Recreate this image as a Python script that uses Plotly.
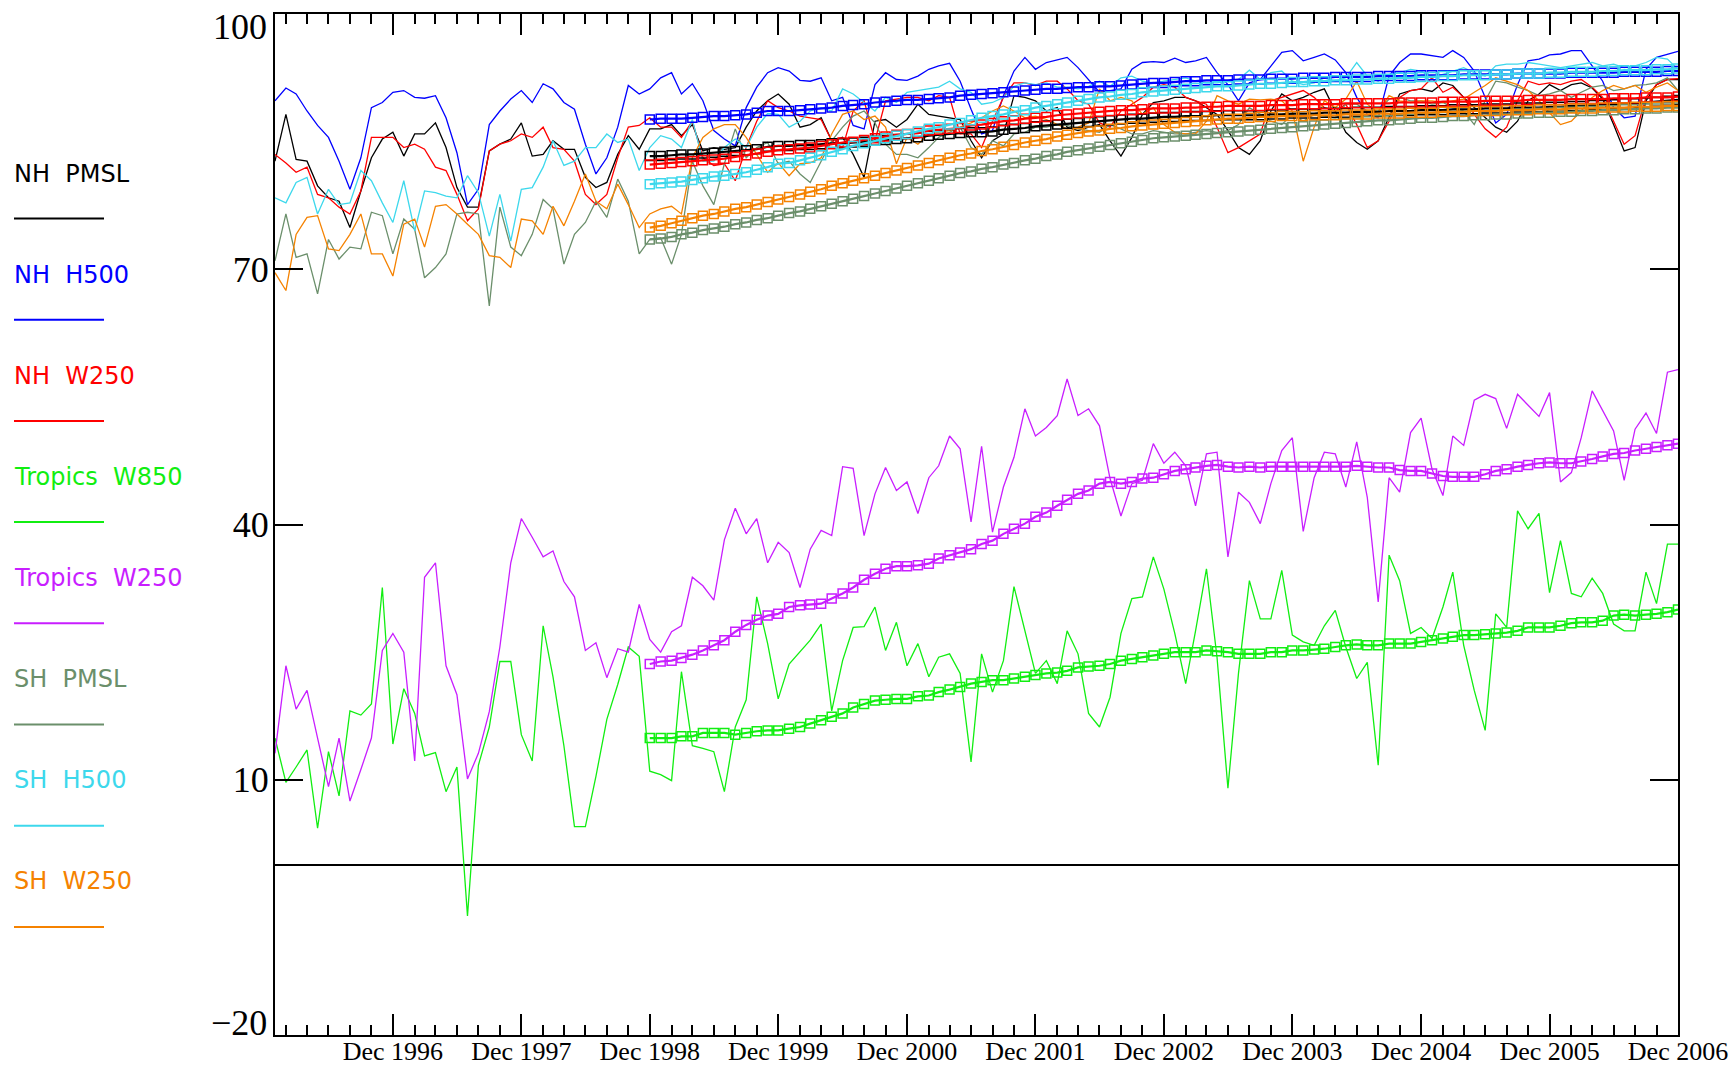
import plotly.graph_objects as go

# ---------------- data ----------------
series_names = ["NH  PMSL", "NH  H500", "NH  W250", "Tropics  W850",
                "Tropics  W250", "SH  PMSL", "SH  H500", "SH  W250"]
series_colors = ["#000000", "#0000ff", "#ff0000", "#11ee11",
                 "#c81eff", "#6b8f6b", "#3dd8ec", "#f58200"]

# monthly x categories Jan 1996 .. Dec 2006
months = [f"{1996 + k // 12}-{k % 12 + 1:02d}-01" for k in range(132)]
smooth_start = 35  # Dec 1998

tick_vals = ["1996-12-01", "1997-12-01", "1998-12-01", "1999-12-01", "2000-12-01", "2001-12-01",
             "2002-12-01", "2003-12-01", "2004-12-01", "2005-12-01", "2006-12-01"]
tick_text = ["Dec 1996", "Dec 1997", "Dec 1998", "Dec 1999", "Dec 2000", "Dec 2001",
             "Dec 2002", "Dec 2003", "Dec 2004", "Dec 2005", "Dec 2006"]
y_tick_vals = [-20, 10, 40, 70, 100]
y_tick_text = ["\u221220", "10", "40", "70", "100"]

nh_pmsl = [82.7, 88.2, 82.9, 82.7, 79.8, 78.4, 78.0, 74.9, 79.2, 83.1, 85.3, 86.1, 83.3, 85.9, 85.9, 87.2,
           84.3, 79.6, 77.3, 77.3, 83.9, 84.7, 85.3, 87.2, 83.3, 83.5, 85.1, 84.1, 84.1, 80.8, 79.6, 80.2,
           83.5, 85.7, 84.1, 86.5, 86.5, 87.0, 85.7, 87.0, 83.9, 84.3, 84.1, 84.3, 86.7, 88.6, 89.8,
           90.6, 89.4, 86.7, 87.0, 87.8, 85.1, 85.5, 83.5, 80.8, 87.4, 87.6, 86.7, 87.6, 89.4, 88.2, 88.0,
           87.8, 87.6, 85.1, 83.1, 85.1, 85.9, 90.4, 90.2, 89.8, 88.6, 89.0, 86.7, 86.3, 86.7, 87.0, 85.1,
           83.3, 85.5, 88.2, 89.6, 89.8, 90.2, 90.2, 89.8, 89.0, 88.2, 86.3, 84.3,
           83.5, 85.1, 88.6, 90.6, 89.8, 90.2, 90.8, 91.2, 88.6, 86.1, 84.9, 84.1, 85.1, 88.0, 90.6, 91.0,
           91.2, 90.9, 91.9, 91.6, 90.2, 89.0, 87.8, 86.7, 86.1, 87.4, 89.8, 90.6, 91.7, 91.0, 91.7, 91.9,
           91.3, 90.0, 87.0, 83.9, 84.3, 89.8, 91.7, 92.3, 92.3]
nh_h500 = [89.8, 91.3, 90.6, 88.6, 86.9, 85.5, 82.7, 79.4, 83.1, 89.0, 89.6, 90.8, 91.0, 90.2, 90.1, 90.4,
           87.8, 83.7, 77.6, 79.4, 87.0, 88.6, 90.0, 91.0, 89.6, 91.8, 91.2, 89.6, 88.8, 84.7, 81.2, 83.1,
           86.7, 91.6, 90.6, 91.2, 92.5, 93.1, 90.6, 91.8, 89.8, 86.3, 85.3, 84.5, 89.0, 91.4, 93.1,
           93.7, 93.3, 92.2, 92.1, 92.5, 89.8, 90.2, 86.9, 86.5, 91.7, 93.1, 92.3, 92.2, 92.7, 93.5, 93.9,
           94.2, 92.1, 88.8, 85.9, 86.3, 90.4, 93.3, 94.9, 93.5, 94.3, 94.6, 94.9, 93.7, 92.3, 90.8, 91.0,
           91.2, 93.5, 94.3, 94.4, 94.3, 94.8, 94.3, 94.5, 94.9, 93.1, 91.7, 89.8,
           91.9, 92.3, 93.9, 95.5, 95.7, 94.5, 94.9, 95.3, 94.6, 93.1, 90.2, 88.2, 87.8, 92.7, 94.3, 95.3,
           95.3, 95.1, 94.9, 95.7, 94.9, 93.3, 90.2, 87.2, 88.2, 91.7, 94.5, 94.7, 95.2, 95.3, 95.7, 95.7,
           93.9, 92.1, 89.0, 87.8, 88.0, 93.5, 94.9, 95.3, 95.6]
nh_w250 = [83.5, 82.5, 81.4, 82.0, 78.8, 78.4, 77.3, 76.5, 79.2, 85.5, 85.5, 85.5, 84.3, 84.7, 84.1, 82.0,
           81.6, 78.8, 75.7, 77.1, 83.9, 84.7, 85.1, 85.9, 85.5, 86.7, 84.3, 84.1, 82.7, 78.8, 77.6, 78.8,
           83.1, 86.7, 86.9, 87.8, 86.7, 86.7, 85.5, 87.4, 83.1, 82.2, 82.4, 80.4, 84.3, 87.4, 89.8,
           89.0, 88.6, 88.0, 87.8, 87.6, 85.1, 84.3, 88.6, 89.8, 85.1, 89.8, 90.0, 90.2, 90.2, 89.8, 90.4,
           90.2, 85.9, 85.9, 84.3, 87.4, 90.2, 91.9, 91.9, 91.6, 92.1, 92.1, 91.2, 89.8, 89.4, 87.2, 86.7,
           88.6, 89.4, 90.2, 91.4, 91.7, 91.4, 90.2, 89.8, 89.4, 86.7, 83.7, 84.3,
           85.1, 85.9, 89.8, 90.2, 90.6, 91.0, 90.2, 89.0, 88.6, 89.4, 87.0, 84.3, 85.1, 87.4, 90.2, 91.0,
           91.2, 92.5, 90.8, 91.4, 90.2, 88.2, 86.5, 85.5, 86.7, 89.8, 92.1, 91.7, 91.9, 91.7, 92.1, 92.3,
           91.4, 90.2, 87.4, 84.7, 85.7, 90.2, 91.7, 92.3, 92.4]
trop_w850 = [14.9, 9.7, 11.5, 13.5, 4.3, 13.3, 8.1, 18.1, 17.6, 18.9, 32.6, 14.2, 20.7, 17.8, 12.8, 13.2,
             8.6, 11.5, -6.0, 11.7, 16.2, 23.9, 23.9, 15.3, 12.2, 28.1, 22.1, 14.0, 4.5, 4.5, 10.4, 17.1,
             21.2, 25.6, 24.5, 11.0, 10.6, 9.9, 22.7, 14.0, 13.7, 13.3, 8.6, 16.2, 19.4, 31.5, 26.0,
             19.5, 23.6, 25.0, 26.4, 28.3, 18.1, 24.0, 27.9, 28.0, 30.3, 25.2, 28.5, 23.4, 26.0, 22.1, 24.4,
             24.8, 22.5, 12.1, 24.8, 20.3, 24.0, 32.7, 27.5, 22.5, 24.0, 21.3, 27.5, 24.8, 17.8, 16.2, 19.7,
             27.2, 31.3, 31.5, 36.2, 32.4, 27.2, 21.3, 27.5, 34.8, 24.4, 9.0, 22.5,
             33.4, 28.9, 28.9, 34.6, 27.0, 26.2, 25.8, 28.1, 29.9, 25.6, 21.9, 23.8, 11.7, 36.4, 33.4, 27.2,
             27.9, 26.6, 30.3, 34.4, 25.8, 20.5, 15.8, 29.5, 27.9, 41.6, 39.5, 41.3, 32.0, 38.1, 31.9, 31.5,
             33.7, 31.9, 28.3, 27.5, 27.5, 34.4, 30.7, 37.7, 37.7]
trop_w250 = [13.1, 23.4, 18.3, 20.5, 14.9, 9.2, 14.9, 7.5, 11.2, 14.9, 25.2, 27.2, 25.0, 12.2, 33.8, 35.5,
             23.4, 20.0, 10.1, 13.1, 18.0, 25.6, 35.5, 40.7, 38.5, 36.2, 36.9, 33.3, 31.5, 25.2, 26.1, 22.0,
             25.4, 25.0, 30.6, 26.5, 25.0, 27.4, 28.1, 33.8, 32.8, 31.1, 38.2, 41.9, 38.9, 40.7, 35.5,
             37.9, 36.7, 32.6, 37.1, 39.3, 38.7, 46.8, 46.6, 38.7, 43.6, 46.7, 44.0, 45.0, 41.3, 45.5, 46.9,
             50.4, 48.9, 40.3, 49.2, 39.1, 44.4, 47.9, 53.6, 50.4, 51.4, 52.8, 57.1, 52.8, 53.6, 51.6, 45.4,
             41.0, 44.8, 45.2, 49.5, 47.2, 48.5, 46.9, 42.2, 48.3, 48.5, 36.2, 43.8,
             42.6, 40.1, 44.8, 48.7, 50.2, 39.2, 45.5, 48.5, 48.3, 44.4, 49.7, 43.2, 30.9, 45.5, 43.8, 50.8,
             52.5, 46.5, 43.4, 50.4, 49.3, 54.6, 55.3, 54.8, 51.3, 55.3, 54.0, 52.7, 55.5, 45.0, 46.1, 50.2,
             55.7, 53.4, 51.0, 45.2, 51.2, 53.1, 50.7, 57.9, 58.2]
sh_pmsl = [71.0, 76.5, 71.4, 71.8, 67.1, 73.5, 71.2, 72.6, 72.4, 76.7, 76.3, 71.8, 75.9, 74.7, 69.0, 70.2,
           71.8, 76.5, 76.7, 76.5, 65.7, 77.3, 72.6, 71.6, 74.1, 78.2, 77.1, 70.6, 74.1, 75.5, 78.0, 76.1,
           80.6, 78.0, 71.8, 73.5, 73.7, 70.6, 74.1, 82.7, 79.8, 77.6, 82.4, 86.5, 83.1, 84.3, 84.9,
           82.4, 82.7, 81.2, 80.2, 82.7, 85.1, 86.7, 88.0, 88.6, 87.2, 84.7, 83.5, 83.5, 83.1, 84.3, 85.5,
           86.1, 86.7, 84.3, 83.5, 85.1, 84.5, 85.9, 86.1, 86.7, 86.7, 87.0, 86.9, 86.5, 86.3, 86.1, 87.0,
           86.5, 85.9, 85.9, 86.3, 86.1, 85.9, 85.9, 86.1, 86.3, 86.1, 86.3, 87.0,
           89.0, 88.2, 87.4, 87.0, 88.2, 87.4, 88.2, 88.0, 87.8, 89.4, 89.4, 88.6, 88.6, 90.0, 90.2, 89.8,
           89.8, 89.4, 89.6, 89.0, 88.6, 87.0, 89.8, 92.1, 91.9, 91.4, 91.0, 90.4, 90.6, 91.0, 90.2, 90.8,
           91.4, 91.6, 91.0, 91.2, 91.6, 91.7, 91.9, 92.5, 91.0]
sh_h500 = [78.4, 77.8, 80.2, 80.8, 76.5, 79.4, 77.6, 77.8, 81.6, 80.4, 77.8, 75.5, 80.4, 74.5, 79.2, 79.0,
           78.6, 78.4, 81.0, 79.0, 73.9, 78.8, 73.3, 79.4, 79.6, 82.0, 85.1, 82.2, 82.7, 84.3, 84.3, 85.9,
           84.9, 85.3, 81.6, 84.3, 85.7, 85.3, 84.3, 87.6, 82.7, 82.7, 84.3, 85.3, 84.3, 86.7, 88.3,
           88.2, 86.7, 87.4, 88.6, 89.0, 88.6, 91.2, 90.6, 89.6, 88.6, 90.2, 89.6, 90.8, 91.0, 91.2, 91.4,
           92.1, 91.2, 90.8, 89.4, 89.6, 90.2, 91.5, 91.9, 91.7, 91.9, 91.4, 91.4, 91.2, 91.5, 92.1, 91.5,
           92.5, 92.7, 92.1, 91.9, 92.1, 92.3, 92.5, 92.1, 91.9, 91.9, 92.1, 92.3,
           93.4, 92.3, 93.1, 93.3, 92.1, 91.7, 91.9, 92.5, 92.1, 92.5, 94.3, 92.7, 92.1, 92.9, 93.1, 93.5,
           93.3, 92.5, 92.9, 93.3, 93.7, 93.1, 92.7, 93.9, 94.1, 94.1, 94.3, 94.1, 93.9, 93.7, 93.9, 94.1,
           94.3, 93.9, 94.1, 93.7, 93.9, 94.3, 94.9, 94.7, 93.5]
sh_w250 = [69.6, 67.5, 74.1, 76.1, 76.3, 72.4, 72.2, 74.1, 76.5, 71.8, 71.8, 69.2, 75.3, 75.9, 72.6, 77.4,
           77.6, 76.5, 75.3, 74.1, 71.6, 71.4, 70.2, 75.9, 75.7, 74.1, 77.4, 75.1, 78.0, 81.2, 78.0, 77.1,
           80.0, 77.6, 74.9, 76.5, 77.1, 77.4, 76.5, 83.1, 85.5, 86.5, 87.0, 87.0, 85.5, 83.5, 81.4,
           82.5, 81.0, 82.4, 82.5, 83.1, 85.9, 88.2, 88.6, 87.6, 88.0, 86.7, 82.4, 85.5, 84.7, 85.9, 86.1,
           86.3, 86.7, 87.2, 87.8, 88.6, 89.2, 88.6, 87.8, 88.0, 87.6, 87.0, 86.5, 86.7, 87.2, 91.2, 89.8,
           90.2, 89.8, 88.2, 89.0, 87.0, 86.1, 85.9, 85.9, 87.4, 90.4, 89.8, 89.4,
           90.0, 89.9, 90.0, 89.8, 88.6, 82.7, 86.7, 89.8, 89.0, 90.0, 92.1, 89.4, 88.4, 90.4, 89.8, 89.6,
           89.8, 89.8, 89.6, 89.8, 90.0, 90.8, 91.6, 92.5, 92.1, 91.7, 91.0, 89.8, 88.4, 87.0, 87.4, 88.6,
           90.2, 91.0, 91.6, 91.2, 91.6, 90.8, 91.4, 91.9, 91.0]

# smoothed curves, Dec 1998 .. Dec 2006
nh_pmsl_s = [83.3, 83.3, 83.4, 83.5, 83.5, 83.6, 83.7, 83.8, 83.9, 84.0, 84.1,
             84.4, 84.5, 84.5, 84.6, 84.6, 84.7, 84.8, 84.8, 84.9, 85.0, 85.1, 85.2, 85.3, 85.4, 85.5,
             85.7, 85.8, 85.9, 86.0, 86.1, 86.1, 86.2, 86.4, 86.5, 86.6, 86.8, 86.9, 87.0, 87.1, 87.2,
             87.3, 87.4, 87.5, 87.6, 87.7, 87.7, 87.8, 87.9, 87.9, 88.0, 88.0, 88.0, 88.1, 88.1, 88.1,
             88.1, 88.1, 88.2, 88.2, 88.3, 88.3, 88.3, 88.4, 88.4, 88.4, 88.5, 88.5, 88.5, 88.6, 88.6,
             88.6, 88.7, 88.7, 88.7, 88.8, 88.8, 88.8, 88.9, 88.9, 88.9, 89.0, 89.0, 89.0, 89.1, 89.1,
             89.2, 89.2, 89.3, 89.3, 89.4, 89.5, 89.5, 89.6, 89.7, 89.8, 89.9]
nh_h500_s = [87.6, 87.7, 87.7, 87.7, 87.8, 87.9, 88.0, 88.0, 88.1, 88.2, 88.4,
             88.6, 88.6, 88.6, 88.7, 88.8, 88.9, 89.0, 89.2, 89.3, 89.4, 89.6, 89.7, 89.8, 89.9, 89.9,
             90.0, 90.1, 90.2, 90.4, 90.5, 90.6, 90.7, 90.8, 90.9, 91.0, 91.1, 91.2, 91.2, 91.3, 91.4,
             91.4, 91.5, 91.5, 91.6, 91.7, 91.8, 91.9, 91.9, 92.0, 92.1, 92.1, 92.2, 92.2, 92.2, 92.3,
             92.3, 92.3, 92.4, 92.4, 92.4, 92.5, 92.5, 92.5, 92.6, 92.6, 92.6, 92.6, 92.7, 92.7, 92.7,
             92.7, 92.8, 92.8, 92.8, 92.8, 92.9, 92.9, 92.9, 92.9, 92.9, 93.0, 93.0, 93.0, 93.0, 93.0,
             93.1, 93.1, 93.1, 93.1, 93.1, 93.2, 93.2, 93.2, 93.2, 93.3, 93.3]
nh_w250_s = [82.3, 82.4, 82.5, 82.6, 82.7, 82.8, 82.9, 83.0, 83.2, 83.4, 83.6,
             83.8, 84.0, 84.1, 84.2, 84.3, 84.5, 84.7, 84.9, 85.0, 85.2, 85.4, 85.6, 85.8, 85.9, 86.0,
             86.3, 86.4, 86.5, 86.6, 86.9, 87.0, 87.2, 87.4, 87.5, 87.7, 87.8, 87.9, 88.1, 88.2, 88.3,
             88.4, 88.5, 88.6, 88.7, 88.7, 88.8, 88.9, 88.9, 88.9, 89.0, 89.0, 89.1, 89.1, 89.2, 89.2,
             89.2, 89.2, 89.3, 89.3, 89.3, 89.4, 89.4, 89.4, 89.4, 89.5, 89.5, 89.5, 89.5, 89.5, 89.6,
             89.6, 89.6, 89.6, 89.7, 89.7, 89.7, 89.7, 89.8, 89.8, 89.8, 89.8, 89.9, 89.9, 89.9, 89.9,
             90.0, 90.0, 90.0, 90.0, 90.1, 90.1, 90.1, 90.2, 90.2, 90.2, 90.3]
trop_w850_s = [14.9, 14.9, 14.9, 15.1, 15.1, 15.5, 15.5, 15.5, 15.3, 15.5, 15.7,
               15.8, 15.8, 16.0, 16.2, 16.6, 17.0, 17.4, 17.8, 18.5, 18.9, 19.3, 19.4, 19.5, 19.5, 19.8,
               19.9, 20.3, 20.6, 20.9, 21.3, 21.5, 21.7, 21.7, 21.9, 22.1, 22.3, 22.5, 22.6, 22.8, 23.2,
               23.3, 23.4, 23.6, 24.0, 24.2, 24.4, 24.6, 24.8, 25.0, 25.0, 25.0, 25.2, 25.1, 25.0, 24.8,
               24.8, 24.8, 25.0, 25.0, 25.2, 25.2, 25.3, 25.4, 25.6, 25.8, 25.9, 25.8, 25.8, 26.0, 26.0,
               26.0, 26.2, 26.4, 26.6, 26.8, 27.0, 27.0, 27.1, 27.2, 27.3, 27.5, 27.9, 27.9, 27.9, 28.1,
               28.4, 28.5, 28.5, 28.7, 29.3, 29.4, 29.3, 29.4, 29.5, 29.7, 30.0]
trop_w250_s = [23.6, 23.9, 24.0, 24.3, 24.7, 25.2, 25.8, 26.4, 27.4, 28.2, 28.8,
               29.3, 29.5, 30.3, 30.5, 30.6, 30.7, 31.3, 31.9, 32.6, 33.5, 34.2, 34.8, 35.1, 35.1, 35.2,
               35.4, 36.0, 36.4, 36.7, 37.1, 37.7, 38.1, 38.9, 39.5, 40.1, 40.9, 41.4, 42.2, 42.9, 43.6,
               44.0, 44.8, 45.0, 44.8, 45.0, 45.4, 45.5, 45.9, 46.3, 46.5, 46.7, 46.9, 47.0, 46.8, 46.7,
               46.8, 46.7, 46.8, 46.8, 46.8, 46.8, 46.8, 46.8, 46.8, 46.8, 46.9, 46.8, 46.7, 46.7, 46.4,
               46.3, 46.3, 46.0, 45.7, 45.6, 45.6, 45.6, 45.9, 46.3, 46.5, 46.8, 47.0, 47.2, 47.3, 47.2,
               47.2, 47.4, 47.7, 48.0, 48.3, 48.4, 48.7, 48.9, 49.1, 49.3, 49.5]
sh_pmsl_s = [73.5, 73.6, 73.8, 74.1, 74.3, 74.6, 74.8, 75.0, 75.3, 75.5, 75.8,
             76.0, 76.3, 76.6, 76.8, 77.1, 77.4, 77.7, 78.0, 78.3, 78.6, 78.9, 79.2, 79.5, 79.8, 80.1,
             80.4, 80.7, 81.0, 81.3, 81.5, 81.8, 82.0, 82.3, 82.5, 82.8, 83.0, 83.3, 83.5, 83.8, 84.0,
             84.2, 84.4, 84.6, 84.8, 85.0, 85.2, 85.4, 85.5, 85.6, 85.7, 85.8, 85.9, 86.0, 86.1, 86.2,
             86.3, 86.4, 86.5, 86.6, 86.7, 86.8, 86.9, 87.0, 87.1, 87.2, 87.3, 87.4, 87.5, 87.5, 87.6,
             87.7, 87.8, 87.8, 87.9, 88.0, 88.0, 88.1, 88.1, 88.2, 88.2, 88.3, 88.3, 88.4, 88.4, 88.5,
             88.5, 88.6, 88.6, 88.7, 88.7, 88.8, 88.8, 88.9, 88.9, 89.0, 89.0]
sh_h500_s = [80.0, 80.1, 80.2, 80.3, 80.5, 80.7, 80.9, 81.0, 81.2, 81.4, 81.7,
             82.0, 82.4, 82.5, 82.8, 83.1, 83.4, 83.8, 84.1, 84.5, 84.8, 85.1, 85.4, 85.7, 85.9, 86.2,
             86.5, 86.7, 87.0, 87.2, 87.5, 87.8, 88.0, 88.2, 88.5, 88.7, 89.0, 89.2, 89.4, 89.6, 89.8,
             90.0, 90.2, 90.3, 90.5, 90.6, 90.8, 90.9, 91.0, 91.1, 91.2, 91.3, 91.4, 91.5, 91.5, 91.6,
             91.7, 91.8, 91.8, 91.9, 92.0, 92.0, 92.1, 92.1, 92.2, 92.2, 92.3, 92.3, 92.4, 92.4, 92.5,
             92.5, 92.6, 92.6, 92.7, 92.7, 92.8, 92.8, 92.8, 92.9, 92.9, 93.0, 93.0, 93.0, 93.1, 93.1,
             93.2, 93.2, 93.2, 93.3, 93.3, 93.4, 93.4, 93.4, 93.5, 93.5, 93.6]
sh_w250_s = [74.9, 75.1, 75.4, 75.7, 76.0, 76.3, 76.5, 76.8, 77.1, 77.3, 77.6,
             77.9, 78.2, 78.5, 78.8, 79.1, 79.4, 79.8, 80.1, 80.4, 80.7, 81.0, 81.3, 81.6, 81.9, 82.2,
             82.5, 82.8, 83.1, 83.4, 83.6, 83.9, 84.1, 84.4, 84.6, 84.9, 85.1, 85.3, 85.6, 85.8, 86.0,
             86.2, 86.3, 86.5, 86.6, 86.8, 86.9, 87.0, 87.1, 87.2, 87.3, 87.4, 87.5, 87.6, 87.7, 87.7,
             87.8, 87.9, 87.9, 88.0, 88.0, 88.0, 88.1, 88.1, 88.1, 88.2, 88.2, 88.2, 88.3, 88.3, 88.3,
             88.4, 88.4, 88.4, 88.5, 88.5, 88.5, 88.6, 88.6, 88.6, 88.7, 88.7, 88.7, 88.8, 88.8, 88.8,
             88.9, 88.9, 88.9, 89.0, 89.0, 89.0, 89.1, 89.1, 89.1, 89.2, 89.2]

raw_series = [nh_pmsl, nh_h500, nh_w250, trop_w850, trop_w250, sh_pmsl, sh_h500, sh_w250]
smooth_series = [nh_pmsl_s, nh_h500_s, nh_w250_s, trop_w850_s, trop_w250_s, sh_pmsl_s, sh_h500_s, sh_w250_s]

for s in raw_series:
    assert len(s) == len(months), len(s)
for s in smooth_series:
    assert len(s) == len(months) - smooth_start, len(s)

# ---------------- figure ----------------
W, H = 1734, 1068
ML, MR, MT, MB = 275, 56, 14, 33
PW, PH = W - ML - MR, H - MT - MB


def px_x(px):
    return (px - ML) / PW


def px_y(py):
    return 1 - (py - MT) / PH


fig = go.Figure()
for name, col, vals in zip(series_names, series_colors, raw_series):
    fig.add_trace(go.Scatter(x=months, y=vals, mode="lines", name=name,
                             line=dict(color=col, width=1.3), showlegend=False))
for name, col, vals in zip(series_names, series_colors, smooth_series):
    fig.add_trace(go.Scatter(x=months[smooth_start:], y=vals, mode="lines+markers", name=name + " mean",
                             line=dict(color=col, width=2.2),
                             marker=dict(symbol="square-open", size=9, color=col,
                                         line=dict(width=1.5, color=col)),
                             showlegend=False))

annotations = []
shapes = []
for k, (name, col) in enumerate(zip(series_names, series_colors)):
    ty = 173.5 + 101.1 * k
    ly = 218.5 + 101.2 * k
    annotations.append(dict(x=px_x(12), y=px_y(ty), xref="paper", yref="paper",
                            xanchor="left", yanchor="middle", showarrow=False,
                            text=name.replace(" ", "\u00a0"),
                            font=dict(family="DejaVu Sans", size=24, color=col)))
    shapes.append(dict(type="line", xref="paper", yref="paper",
                       x0=px_x(14), x1=px_x(104), y0=px_y(ly), y1=px_y(ly),
                       line=dict(color=col, width=2)))

# the end labels of the value axis sit just inside the frame
edge_label_pos = {0: 1023, 4: 27}
for idx, py in edge_label_pos.items():
    annotations.append(dict(x=px_x(269), y=px_y(py), xref="paper", yref="paper",
                            xanchor="right", yanchor="middle", showarrow=False,
                            text=y_tick_text[idx],
                            font=dict(family="Liberation Serif", size=36, color="black")))
axis_tick_text = ["" if i in edge_label_pos else t for i, t in enumerate(y_tick_text)]

fig.update_layout(
    width=W, height=H,
    margin=dict(l=ML, r=MR, t=MT, b=MB, pad=0, autoexpand=False),
    paper_bgcolor="white", plot_bgcolor="white",
    showlegend=False,
    annotations=annotations,
    shapes=shapes,
    font=dict(family="Liberation Serif", color="black"),
)
fig.update_xaxes(
    type="date", range=[months[0], months[-1]], automargin=False,
    tickmode="array", tickvals=tick_vals, ticktext=tick_text,
    ticks="inside", ticklen=21, tickwidth=1.5, tickcolor="black",
    minor=dict(ticks="inside", ticklen=10, tickwidth=1.5, tickcolor="black",
               dtick="M2", tick0="1996-02-01", showgrid=False),
    showline=True, linecolor="black", linewidth=2, mirror="ticks",
    showgrid=False, zeroline=False,
    tickfont=dict(family="Liberation Serif", size=26, color="black"),
    ticklabelstandoff=-8,
)
fig.update_yaxes(
    range=[-20, 100], automargin=False,
    tickmode="array", tickvals=y_tick_vals, ticktext=axis_tick_text,
    ticks="inside", ticklen=28, tickwidth=1.5, tickcolor="black",
    showline=True, linecolor="black", linewidth=2, mirror="ticks",
    showgrid=False, zeroline=True, zerolinecolor="black", zerolinewidth=1.5,
    tickfont=dict(family="Liberation Serif", size=36, color="black"),
    ticklabelstandoff=-3,
)

fig.write_html("out.html", config={"displayModeBar": False},
               post_script="document.body.style.margin='0';")
